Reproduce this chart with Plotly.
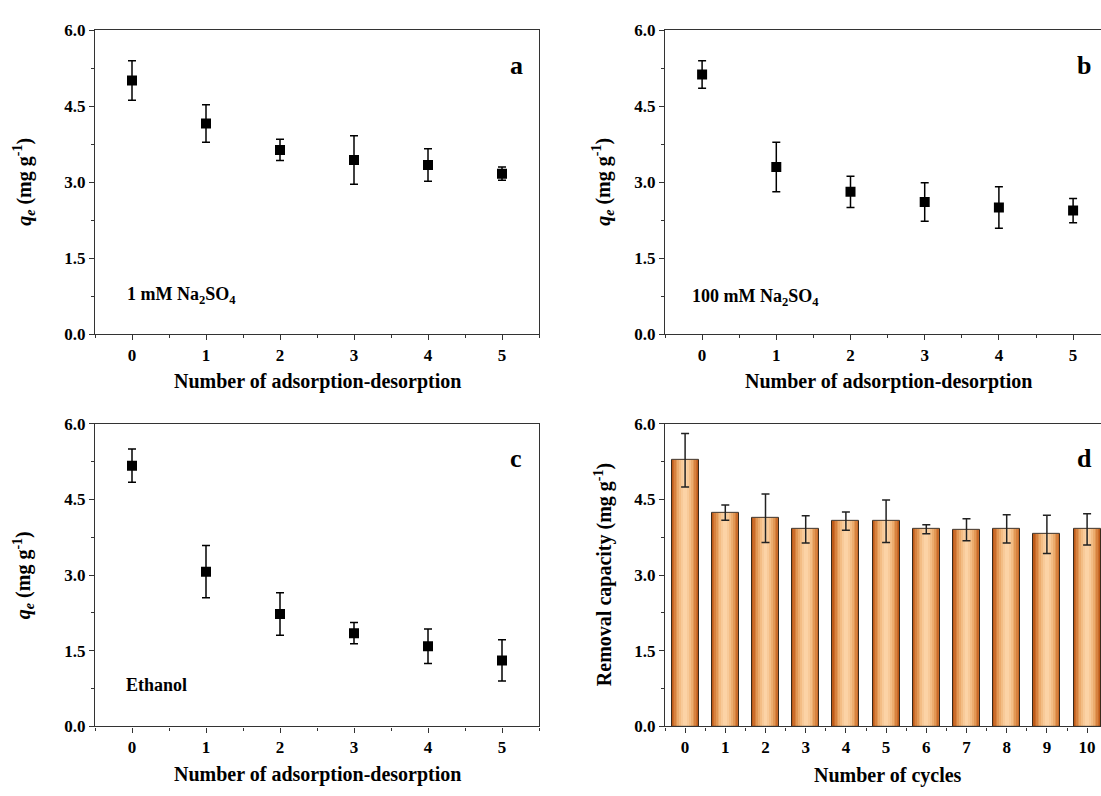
import plotly.graph_objects as go

# ---------------- data ----------------
cycles_ad = [0, 1, 2, 3, 4, 5]
qe_a = [5.01, 4.16, 3.64, 3.44, 3.34, 3.17]
err_a = [0.39, 0.37, 0.21, 0.48, 0.32, 0.13]
qe_b = [5.13, 3.30, 2.81, 2.61, 2.50, 2.44]
err_b = [0.27, 0.49, 0.31, 0.38, 0.41, 0.24]
qe_c = [5.17, 3.07, 2.23, 1.85, 1.59, 1.31]
err_c = [0.33, 0.52, 0.42, 0.21, 0.34, 0.41]
cycles_d = [0, 1, 2, 3, 4, 5, 6, 7, 8, 9, 10]
cap_d = [5.28, 4.24, 4.13, 3.91, 4.07, 4.07, 3.91, 3.90, 3.92, 3.81, 3.91]
err_d = [0.53, 0.15, 0.48, 0.27, 0.18, 0.42, 0.09, 0.22, 0.28, 0.38, 0.31]
y_ticks = [0.0, 1.5, 3.0, 4.5, 6.0]

# ---------------- layout helpers ----------------
W, H = 1101, 796
FONT = "Liberation Serif, Times New Roman, serif"


def px(x):
    return x / W


def py(y):
    return 1 - y / H


fig = go.Figure()

# scatter panels
for qe, err, ax in [(qe_a, err_a, ""), (qe_b, err_b, "2"), (qe_c, err_c, "3")]:
    fig.add_trace(go.Scatter(
        x=cycles_ad, y=qe, mode="markers",
        marker=dict(symbol="square", size=10, color="black"),
        error_y=dict(type="data", array=err, color="black", thickness=1.5, width=4),
        xaxis="x" + ax, yaxis="y" + ax, showlegend=False,
    ))

# bar panel with gradient imitation (stacked narrower lighter layers)
layers = [(0.67, "#BD5A18"), (0.61, "#CA6C2A"), (0.54, "#D7823F"), (0.46, "#E29855"),
          (0.38, "#ECAC6E"), (0.29, "#F3BD85"), (0.19, "#F8CA99"), (0.09, "#FCD3A6")]
for w, c in layers:
    fig.add_trace(go.Bar(
        x=cycles_d, y=cap_d, width=w, marker=dict(color=c, line=dict(width=0)),
        xaxis="x4", yaxis="y4", showlegend=False, hoverinfo="skip",
    ))
fig.add_trace(go.Bar(
    x=cycles_d, y=cap_d, width=0.67,
    marker=dict(color="rgba(0,0,0,0)", line=dict(color="#3a2a1c", width=1)),
    error_y=dict(type="data", array=err_d, color="#222", thickness=1.5, width=4),
    xaxis="x4", yaxis="y4", showlegend=False,
))

tickfont = dict(family=FONT, size=17, color="black", weight="bold")
line_common = dict(showline=True, linecolor="#333", linewidth=1.3, ticks="outside",
                   ticklen=5, tickwidth=1.2, tickcolor="#333", showgrid=False,
                   zeroline=False, tickfont=tickfont)


def xax(domain, rng, anchor):
    return dict(domain=domain, range=rng, anchor=anchor, tickmode="linear", tick0=0, dtick=1,
                mirror=True,
                minor=dict(ticks="outside", ticklen=3, tickwidth=1.1, tickcolor="#333",
                           tick0=0, dtick=0.5, showgrid=False),
                **line_common)


def yax(domain, anchor, mirror):
    return dict(domain=domain, range=[0, 6], anchor=anchor, tickmode="array",
                tickvals=y_ticks, ticktext=[f"{v:.1f}" for v in y_ticks], mirror=mirror,
                minor=dict(ticks="outside", ticklen=3, tickwidth=1.1, tickcolor="#333",
                           tick0=0, dtick=0.75, showgrid=False),
                **line_common)


top_dom = [py(333), py(22)]
bot_dom = [py(735), py(425)]
left_dom = [px(95), px(539)]
right_dom = [px(665), 1.0]
unit_b = 74.2
unit_d = 40.2

fig.update_layout(
    width=W, height=H, margin=dict(l=0, r=0, t=0, b=0),
    paper_bgcolor="white", plot_bgcolor="white", barmode="overlay", bargap=0,
    xaxis=xax(left_dom, [-0.5, 5.5], "y"),
    yaxis=yax(top_dom, "x", True),
    xaxis2=xax(right_dom, [-0.5, -0.5 + 436 / unit_b], "y2"),
    yaxis2=yax(top_dom, "x2", False),
    xaxis3=xax(left_dom, [-0.5, 5.5], "y3"),
    yaxis3=yax(bot_dom, "x3", True),
    xaxis4=xax(right_dom, [-0.5, -0.5 + 436 / unit_d], "y4"),
    yaxis4=yax(bot_dom, "x4", False),
)

title_font = dict(family=FONT, size=20, color="black", weight="bold")
qe_title = "<i>q</i><sub><i>e</i></sub> (mg g<sup>-1</sup>)"
ann = []


def text(x, y, s, font, angle=0, xanchor="center"):
    ann.append(dict(x=px(x), y=py(y), xref="paper", yref="paper", text=s, showarrow=False,
                    font=font, textangle=angle, xanchor=xanchor, yanchor="middle"))


# axis titles
text(317, 382, "Number of adsorption-desorption", title_font)
text(888, 382, "Number of adsorption-desorption", title_font)
text(317, 784, "Number of adsorption-desorption", title_font)
text(888, 785, "Number of cycles", title_font)
text(24, 177, qe_title, title_font, angle=-90)
text(603, 177, qe_title, title_font, angle=-90)
text(24, 580, qe_title, title_font, angle=-90)
text(603, 580, "Removal capacity (mg g<sup>-1</sup>)", title_font, angle=-90)

# panel letters
letter_font = dict(family=FONT, size=26, color="black", weight="bold")
text(516, 58, "a", letter_font)
text(1084, 58, "b", letter_font)
text(516, 461, "c", letter_font)
text(1084, 461, "d", letter_font)

# condition labels
lab_font = dict(family=FONT, size=18, color="black", weight="bold")
text(125, 293, "1 mM Na<sub>2</sub>SO<sub>4</sub>", lab_font, xanchor="left")
text(690, 296, "100 mM Na<sub>2</sub>SO<sub>4</sub>", lab_font, xanchor="left")
text(124, 693, "Ethanol", lab_font, xanchor="left")

fig.update_layout(annotations=ann)
fig.write_html(
    "out.html",
    config={"displayModeBar": False, "staticPlot": False},
    post_script="document.body.style.margin='0px';document.body.style.padding='0px';"
                "document.body.style.overflow='hidden';",
)
